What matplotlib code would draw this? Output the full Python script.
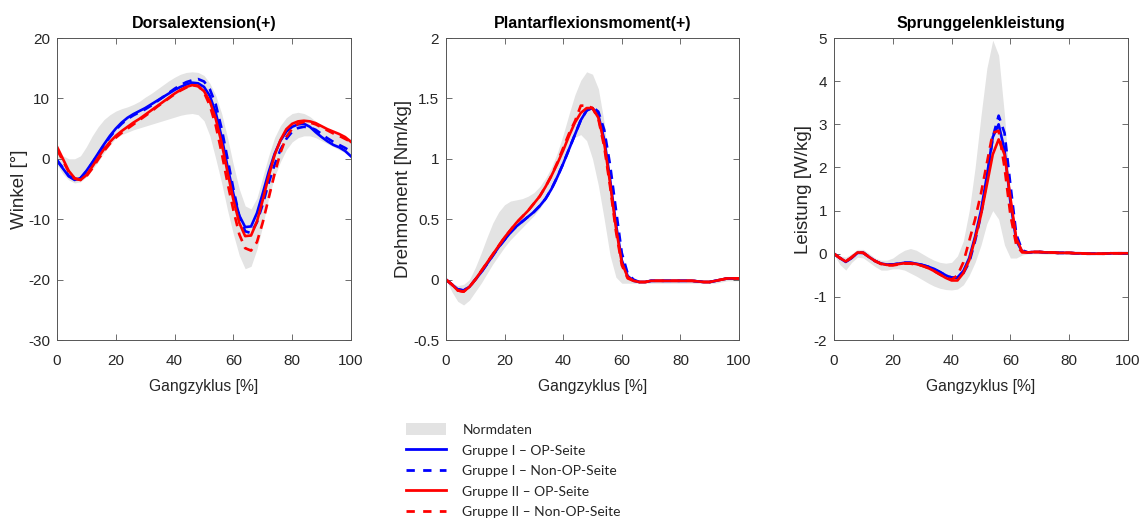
import numpy as np
import matplotlib
matplotlib.use("Agg")
import matplotlib.pyplot as plt
from matplotlib.patches import Patch
from matplotlib.lines import Line2D

plt.rcParams['font.family'] = ['Liberation Sans', 'DejaVu Sans']

# ---------------- data ----------------
x = np.arange(0, 101, 2)  # Gangzyklus [%]

titles = ["Dorsalextension(+)", "Plantarflexionsmoment(+)", "Sprunggelenkleistung"]
ylabels = ["Winkel [°]", "Drehmoment [Nm/kg]", "Leistung [W/kg]"]
xlabel = "Gangzyklus [%]"
ylims = [(-30, 20), (-0.5, 2), (-2, 5)]
yticks = [[-30, -20, -10, 0, 10, 20],
          [-0.5, 0, 0.5, 1, 1.5, 2],
          [-2, -1, 0, 1, 2, 3, 4, 5]]
yticklabels = [["-30", "-20", "-10", "0", "10", "20"],
               ["-0.5", "0", "0.5", "1", "1.5", "2"],
               ["-2", "-1", "0", "1", "2", "3", "4", "5"]]
xticks = [0, 20, 40, 60, 80, 100]

legend_labels = ["Normdaten", "Gruppe I – OP-Seite", "Gruppe I – Non-OP-Seite",
                 "Gruppe II – OP-Seite", "Gruppe II – Non-OP-Seite"]

# Panel 1: Dorsalextension
p1_norm_hi = [1.0, 0.5, 0.0, 0.0, 0.5, 2.0, 3.8, 5.3, 6.5, 7.3, 7.9, 8.3, 8.6, 9.0, 9.5, 10.2, 10.8, 11.5,
              12.2, 12.9, 13.5, 14.0, 14.3, 14.4, 14.3, 13.8, 12.5, 10.5, 7.5, 3.5, -1.0, -5.0, -7.8, -8.3,
              -6.5, -3.0, 0.5, 3.5, 5.5, 6.8, 7.5, 7.7, 7.5, 7.0, 6.2, 5.5, 5.0, 4.5, 4.0, 3.6, 3.3]
p1_norm_lo = [-1.0, -2.5, -3.5, -4.0, -3.8, -3.0, -1.8, -0.5, 1.0, 2.3, 3.4, 4.0, 4.4, 4.8, 5.1, 5.4, 5.7,
              6.0, 6.3, 6.6, 6.9, 7.2, 7.4, 7.5, 7.3, 6.3, 3.8, 0.0, -4.0, -8.5, -12.5, -16.0, -18.2, -17.8,
              -15.0, -11.0, -6.5, -3.0, -0.5, 1.5, 2.8, 3.5, 3.8, 3.8, 3.5, 3.0, 2.5, 2.0, 1.5, 1.0, 0.5]
p1_g1_op = [-0.3, -1.6, -2.9, -3.5, -3.2, -2.0, -0.6, 0.9, 2.4, 3.8, 5.0, 6.0, 6.8, 7.4, 7.9, 8.4, 9.0, 9.6,
            10.2, 10.8, 11.4, 11.9, 12.3, 12.6, 12.5, 11.9, 10.4, 7.6, 3.6, -1.3, -5.8, -9.4, -11.3, -11.2,
            -9.0, -5.7, -2.2, 0.8, 3.0, 4.5, 5.3, 5.7, 5.8, 5.3, 4.4, 3.6, 2.9, 2.3, 1.9, 1.3, 0.4]
p1_g1_non = [-0.2, -1.5, -2.8, -3.4, -3.2, -2.1, -0.7, 0.8, 2.3, 3.6, 4.8, 5.8, 6.6, 7.2, 7.7, 8.2, 8.8, 9.5,
             10.2, 10.9, 11.6, 12.2, 12.7, 13.0, 13.2, 12.8, 11.5, 9.0, 5.0, 0.0, -5.0, -9.5, -12.0, -12.3,
             -10.5, -7.5, -4.0, -1.0, 1.5, 3.3, 4.5, 5.1, 5.3, 5.2, 4.8, 4.1, 3.4, 2.8, 2.3, 1.8, 1.2]
p1_g2_op = [2.0, 0.0, -2.0, -3.2, -3.5, -2.7, -1.3, 0.2, 1.6, 2.8, 3.8, 4.6, 5.3, 6.0, 6.6, 7.3, 8.0, 8.7,
            9.4, 10.1, 10.8, 11.4, 11.9, 12.2, 12.0, 11.2, 9.5, 6.6, 2.6, -2.2, -6.8, -10.6, -12.8, -12.7,
            -10.4, -6.8, -2.9, 0.6, 3.1, 4.9, 5.8, 6.2, 6.3, 6.2, 5.9, 5.4, 4.9, 4.5, 4.1, 3.6, 2.8]
p1_g2_non = [1.5, -0.3, -2.2, -3.3, -3.5, -2.9, -1.6, -0.1, 1.3, 2.5, 3.5, 4.3, 5.0, 5.7, 6.4, 7.1, 7.8, 8.6,
             9.3, 10.0, 10.7, 11.3, 11.8, 12.2, 12.1, 11.0, 8.8, 5.5, 1.0, -4.0, -8.5, -12.5, -14.8, -15.2,
             -13.8, -10.5, -6.5, -2.5, 1.0, 3.6, 5.0, 5.8, 6.1, 6.0, 5.7, 5.2, 4.7, 4.2, 3.8, 3.3, 2.8]

# Panel 2: Plantarflexionsmoment
p2_norm_hi = [0.0, -0.03, -0.05, -0.04, 0.0, 0.1, 0.22, 0.35, 0.47, 0.56, 0.62, 0.65, 0.66, 0.67, 0.69,
              0.72, 0.77, 0.84, 0.93, 1.05, 1.2, 1.37, 1.53, 1.65, 1.72, 1.7, 1.58, 1.3, 0.85, 0.4, 0.1,
              0.01, 0.0, 0.0, 0.0, 0.0, 0.0, 0.0, 0.0, 0.0, 0.0, 0.0, 0.0, 0.0, 0.0, 0.0, 0.0, 0.01, 0.02,
              0.02, 0.02]
p2_norm_lo = [0.0, -0.1, -0.18, -0.21, -0.17, -0.1, -0.03, 0.05, 0.13, 0.2, 0.27, 0.33, 0.38, 0.43, 0.48,
              0.53, 0.59, 0.66, 0.75, 0.86, 0.99, 1.1, 1.18, 1.2, 1.15, 1.0, 0.78, 0.5, 0.2, 0.02, -0.03,
              -0.03, -0.03, -0.03, -0.03, -0.03, -0.03, -0.03, -0.03, -0.03, -0.03, -0.03, -0.03, -0.03,
              -0.03, -0.03, -0.03, -0.02, -0.01, -0.01, -0.01]
p2_g1_op = [0.0, -0.04, -0.08, -0.09, -0.06, 0.0, 0.06, 0.13, 0.2, 0.27, 0.33, 0.39, 0.44, 0.48, 0.52,
            0.56, 0.61, 0.67, 0.75, 0.85, 0.96, 1.08, 1.2, 1.32, 1.4, 1.42, 1.36, 1.16, 0.83, 0.46, 0.16,
            0.03, -0.01, -0.02, -0.02, -0.01, -0.01, -0.01, -0.01, -0.01, -0.01, -0.01, -0.01, -0.015,
            -0.02, -0.02, -0.01, 0.0, 0.01, 0.01, 0.01]
p2_g1_non = [0.0, -0.04, -0.08, -0.09, -0.06, 0.0, 0.06, 0.13, 0.2, 0.27, 0.33, 0.39, 0.44, 0.48, 0.52,
             0.56, 0.61, 0.67, 0.75, 0.85, 0.96, 1.08, 1.2, 1.32, 1.4, 1.43, 1.39, 1.24, 0.95, 0.58, 0.22,
             0.05, 0.0, -0.02, -0.02, -0.01, -0.01, -0.01, -0.01, -0.01, -0.01, -0.01, -0.01, -0.015,
             -0.02, -0.02, -0.01, 0.0, 0.01, 0.01, 0.01]
p2_g2_op = [0.0, -0.04, -0.09, -0.1, -0.06, 0.0, 0.07, 0.14, 0.21, 0.28, 0.35, 0.41, 0.47, 0.52, 0.57,
            0.63, 0.69, 0.77, 0.86, 0.96, 1.07, 1.19, 1.3, 1.38, 1.42, 1.42, 1.34, 1.13, 0.8, 0.43, 0.14,
            0.02, -0.01, -0.02, -0.02, -0.01, -0.01, -0.01, -0.01, -0.01, -0.01, -0.01, -0.01, -0.015,
            -0.02, -0.02, -0.01, 0.0, 0.01, 0.01, 0.01]
p2_g2_non = [0.0, -0.04, -0.09, -0.1, -0.06, 0.0, 0.07, 0.14, 0.21, 0.28, 0.35, 0.41, 0.47, 0.52, 0.57,
             0.63, 0.69, 0.77, 0.86, 0.97, 1.09, 1.21, 1.31, 1.44, 1.44, 1.42, 1.33, 1.1, 0.77, 0.4, 0.12,
             0.01, -0.01, -0.02, -0.02, -0.01, -0.01, -0.01, -0.01, -0.01, -0.01, -0.01, -0.01, -0.015,
             -0.02, -0.02, -0.01, 0.0, 0.01, 0.01, 0.01]

# Panel 3: Sprunggelenkleistung
p3_norm_hi = [0.02, -0.05, -0.08, 0.0, 0.1, 0.1, 0.0, -0.1, -0.15, -0.15, -0.1, 0.0, 0.08, 0.12, 0.08,
              0.0, -0.08, -0.15, -0.2, -0.22, -0.2, -0.05, 0.3, 1.0, 2.0, 3.2, 4.3, 4.95, 4.6, 3.2, 1.4,
              0.3, 0.08, 0.06, 0.06, 0.05, 0.05, 0.04, 0.04, 0.03, 0.03, 0.03, 0.03, 0.03, 0.03, 0.03,
              0.03, 0.03, 0.03, 0.03, 0.03]
p3_norm_lo = [-0.02, -0.25, -0.38, -0.2, -0.08, -0.1, -0.2, -0.3, -0.38, -0.38, -0.35, -0.35, -0.38,
              -0.45, -0.52, -0.6, -0.68, -0.75, -0.8, -0.83, -0.84, -0.82, -0.72, -0.5, -0.2, 0.2, 0.7,
              1.0, 0.8, 0.2, -0.1, -0.1, -0.03, 0.0, 0.0, 0.0, -0.01, -0.01, -0.01, -0.01, -0.01, -0.01,
              -0.01, -0.01, -0.01, -0.01, -0.01, -0.01, -0.01, -0.01, -0.01]
p3_g1_op = [0.0, -0.1, -0.19, -0.1, 0.02, 0.02, -0.08, -0.17, -0.23, -0.25, -0.25, -0.23, -0.21, -0.21,
            -0.23, -0.26, -0.3, -0.35, -0.42, -0.5, -0.56, -0.55, -0.4, -0.1, 0.4, 1.0, 1.8, 2.7, 3.0,
            2.4, 1.2, 0.3, 0.05, 0.03, 0.04, 0.04, 0.03, 0.03, 0.02, 0.02, 0.02, 0.01, 0.01, 0.0, 0.0,
            0.0, 0.0, 0.01, 0.01, 0.01, 0.01]
p3_g1_non = [0.0, -0.1, -0.18, -0.09, 0.03, 0.02, -0.08, -0.17, -0.23, -0.25, -0.25, -0.23, -0.21, -0.21,
             -0.23, -0.26, -0.3, -0.36, -0.43, -0.5, -0.55, -0.56, -0.45, -0.2, 0.3, 0.9, 1.7, 2.7, 3.2,
             2.8, 1.6, 0.45, 0.08, 0.03, 0.04, 0.04, 0.03, 0.03, 0.02, 0.02, 0.02, 0.01, 0.01, 0.0, 0.0,
             0.0, 0.0, 0.01, 0.01, 0.01, 0.01]
p3_g2_op = [0.0, -0.1, -0.18, -0.08, 0.03, 0.02, -0.08, -0.17, -0.23, -0.26, -0.26, -0.24, -0.22, -0.22,
            -0.24, -0.28, -0.33, -0.4, -0.48, -0.56, -0.62, -0.62, -0.45, -0.15, 0.35, 0.9, 1.6, 2.3,
            2.65, 2.3, 1.3, 0.35, 0.05, 0.03, 0.04, 0.04, 0.03, 0.03, 0.02, 0.02, 0.02, 0.01, 0.01, 0.0,
            0.0, 0.0, 0.0, 0.01, 0.01, 0.01, 0.01]
p3_g2_non = [0.0, -0.1, -0.18, -0.09, 0.03, 0.02, -0.08, -0.17, -0.24, -0.27, -0.27, -0.25, -0.23, -0.23,
             -0.25, -0.28, -0.33, -0.4, -0.48, -0.55, -0.6, -0.5, -0.2, 0.3, 0.8, 1.4, 2.1, 2.8, 2.85,
             2.0, 0.9, 0.2, 0.03, 0.03, 0.04, 0.04, 0.03, 0.03, 0.02, 0.02, 0.02, 0.01, 0.01, 0.0, 0.0,
             0.0, 0.0, 0.01, 0.01, 0.01, 0.01]

panels = [
    (p1_norm_lo, p1_norm_hi, p1_g1_op, p1_g1_non, p1_g2_op, p1_g2_non),
    (p2_norm_lo, p2_norm_hi, p2_g1_op, p2_g1_non, p2_g2_op, p2_g2_non),
    (p3_norm_lo, p3_norm_hi, p3_g1_op, p3_g1_non, p3_g2_op, p3_g2_non),
]

# ---------------- style ----------------
W, H = 1143, 520
fig = plt.figure(figsize=(W / 100, H / 100), dpi=100)
band_color = "#e3e3e3"
blue = "#0000ff"
red = "#ff0000"
txt = "#262626"
axc = "#555555"
lw = 1.9

tick_fs, title_fs, xlab_fs, ylab_fs = 11, 11.5, 11.3, 13.5

axes_px = [(57, 351), (446, 739), (834, 1128)]
ylab_right_px = [28, 412, 812]
top_px, bot_px = 38, 340

for i, (lo, hi, g1o, g1n, g2o, g2n) in enumerate(panels):
    l, r = axes_px[i]
    ax = fig.add_axes([l / W, 1 - bot_px / H, (r - l) / W, (bot_px - top_px) / H])
    ax.fill_between(x, lo, hi, color=band_color, lw=0)
    ax.plot(x, g1o, color=blue, lw=lw, ls='-')
    ax.plot(x, g1n, color=blue, lw=lw, ls=(0, (3.5, 2.5)))
    ax.plot(x, g2o, color=red, lw=lw, ls='-')
    ax.plot(x, g2n, color=red, lw=lw, ls=(0, (3.5, 2.5)))
    ax.set_xlim(0, 100)
    ax.set_ylim(*ylims[i])
    ax.set_xticks(xticks)
    ax.set_yticks(yticks[i])
    ax.set_yticklabels(yticklabels[i])
    ax.tick_params(direction='in', length=4, width=0.6, top=True, right=True,
                   colors=axc, labelcolor=txt, labelsize=tick_fs)
    ax.tick_params(axis='x', pad=10)
    ax.tick_params(axis='y', pad=5)
    for s in ax.spines.values():
        s.set_color(axc)
        s.set_linewidth(0.7)
    ax.set_title(titles[i], fontsize=title_fs, fontweight='bold', color='black', pad=7)
    ax.set_xlabel(xlabel, fontsize=xlab_fs, color=txt, labelpad=8)
    ax.set_ylabel(ylabels[i], fontsize=ylab_fs, color=txt)
    ax.yaxis.set_label_coords((ylab_right_px[i] - l) / (r - l), 0.5)

handles = [Patch(facecolor=band_color, edgecolor='none'),
           Line2D([], [], color=blue, lw=2),
           Line2D([], [], color=blue, lw=2, ls=(0, (3, 3))),
           Line2D([], [], color=red, lw=2),
           Line2D([], [], color=red, lw=2, ls=(0, (3, 3)))]
leg = fig.legend(handles, legend_labels, loc='upper left',
                 bbox_to_anchor=(406 / W, 1 - 423 / H), frameon=False,
                 prop={'family': ['Lato', 'Liberation Sans'], 'size': 10},
                 handlelength=2.9, handleheight=1.0,
                 handletextpad=1.15, labelspacing=0.55, borderpad=0, borderaxespad=0)
for t in leg.get_texts():
    t.set_color(txt)

fig.savefig("out.png", dpi=100)
